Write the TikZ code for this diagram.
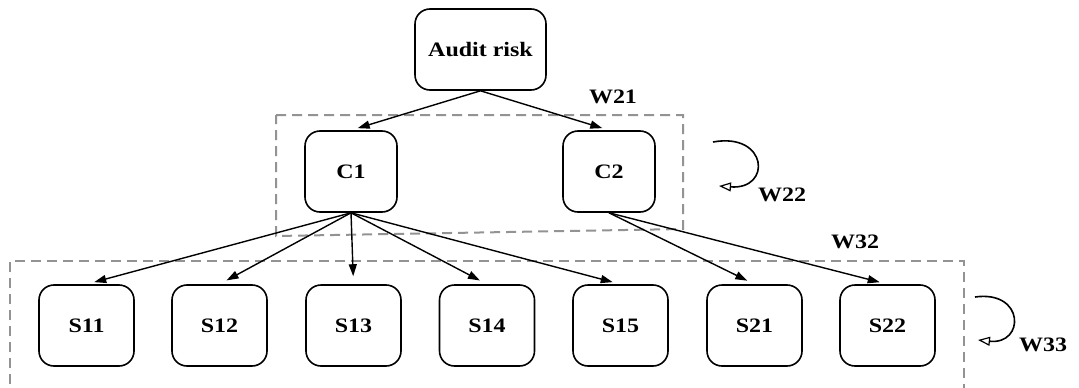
\documentclass[tikz,border=0pt]{standalone}
\usepackage{fontspec}
\setmainfont{Liberation Serif}
\usetikzlibrary{arrows.meta}
% bold labels, set a little wide
\newcommand{\widebf}[1]{\scalebox{1.17}[1]{\fontsize{20.5}{24}\selectfont\bfseries #1}}
\begin{document}
\begin{tikzpicture}[x=1pt,y=-1pt,
  box/.style={draw,line width=1.6pt,rounded corners=15pt,minimum height=81pt,inner sep=0pt},
  sbox/.style={box,minimum width=95pt},
  cbox/.style={box,minimum width=92pt},
  link/.style={line width=1.4pt,-{Triangle[length=12pt,width=8pt]}},
  group/.style={draw=gray!85,line width=2pt,dash pattern=on 10pt off 6pt},
  selfloop/.style={line width=1.6pt,-{Triangle[open,length=12pt,width=9pt,line width=1.2pt]}},
  wlabel/.style={inner sep=0pt}]
\useasboundingbox (0,0) rectangle (1079,388);

% hierarchy
\node[box,minimum width=131pt] (audit) at (480.5,49.5) {\widebf{Audit risk}};
\node[cbox] (c1) at (351,171.5) {\widebf{C1}};
\node[cbox] (c2) at (609,171.5) {\widebf{C2}};
\foreach \n/\x in {S11/86.5,S12/219.5,S13/353.5,S14/487,S15/620.5,S21/754.5,S22/887.5}
  \node[sbox] (\n) at (\x,325.5) {\widebf{\n}};

% criteria group and sub-criteria group
\draw[group] (276,115) -- (683,115) -- (683,229) -- (276,236) -- cycle;
\draw[group] (10,400) -- (10,261) -- (964,261) -- (964,400);

% arrows
\draw[link,shorten >=7pt] (audit.south) -- (c1.north);
\draw[link,shorten >=7pt] (audit.south) -- (c2.north);
\foreach \n in {S11,S12,S13,S14,S15}
  \draw[link,shorten >=8pt] (c1.south) -- (\n.north);
\foreach \n in {S21,S22}
  \draw[link,shorten >=8pt] (c2.south) -- (\n.north);

% self-influence loops
\coordinate (l2a) at (713,142);
\coordinate (l2b) at (719,186);
\draw[selfloop] (l2a) .. controls (768,132) and (772,190) .. (l2b);
\coordinate (l3a) at (975,297);
\coordinate (l3b) at (978,340);
\draw[selfloop] (l3a) .. controls (1025,290) and (1025,345) .. (l3b);

% weight labels
\node[wlabel] (w21) at (613,97) {\widebf{W21}};
\node[wlabel] (w22) at (782,195) {\widebf{W22}};
\node[wlabel] (w32) at (855,242) {\widebf{W32}};
\node[wlabel] (w33) at (1043,345) {\widebf{W33}};
\end{tikzpicture}
\end{document}
